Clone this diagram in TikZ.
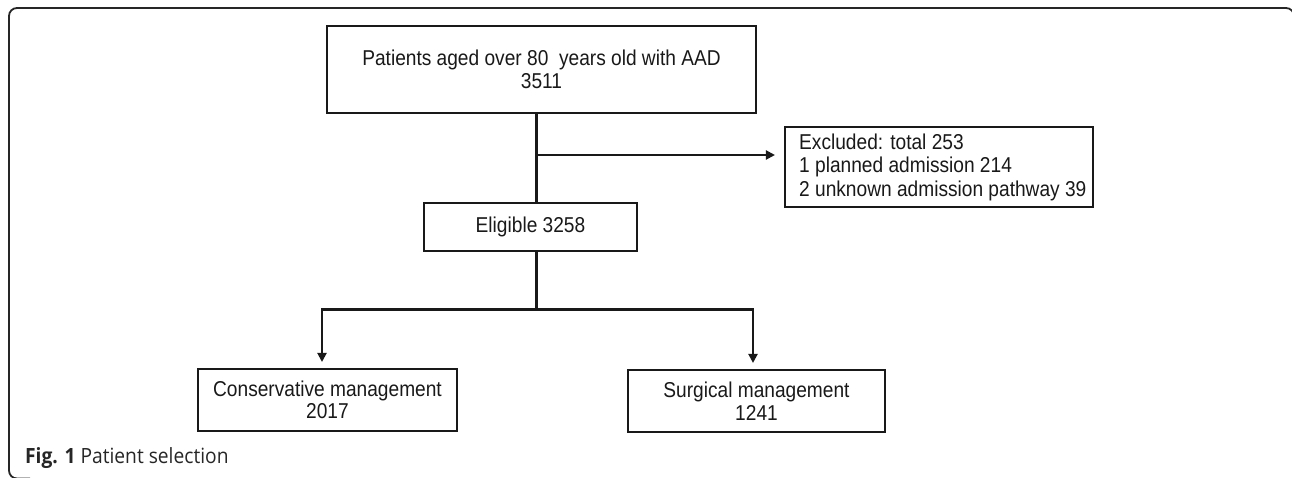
\documentclass[tikz,border=0pt]{standalone}
\usepackage{fontspec}
\setmainfont{Liberation Sans}[FakeStretch=0.89]
\newfontfamily\capfont{Open Sans}[FakeStretch=0.915]
\usetikzlibrary{arrows.meta}
\begin{document}
\begin{tikzpicture}[x=1pt,y=-1pt,
  box/.style={draw=black!90, line width=2.1pt, align=center, inner sep=0pt,
    font=\fontsize{21.5}{22.5}\selectfont, text=black!90},
  conn/.style={line width=2.1pt, draw=black!90},
  arr/.style={conn, -{Triangle[length=9pt,width=9pt]}},
  frame/.style={line width=1.8pt, draw=black!85, rounded corners=8pt},
]
\useasboundingbox (0,0) rectangle (1292,477);
\draw[frame] (30,478.5) -- (9,478.5) -- (9,8) -- (1294,8) -- (1294,40);

\node[box, minimum width=429pt, minimum height=87pt] (top) at (541.5,69.5)
  {Patients aged over 80\ \ years old with AAD\\3511};
\node[box, minimum width=213pt, minimum height=48pt] (elig) at (530.5,227) {Eligible 3258};
\node[box, minimum width=308pt, minimum height=80pt] (excl) at (939,167) {};
\node[anchor=west, align=left, inner sep=0pt, text=black!90,
  font=\fontsize{21.5}{23.5}\selectfont] (exclt) at (799,167)
  {Excluded: total 253\\1 planned admission 214\\2 unknown admission pathway 39};
\node[box, minimum width=259pt, minimum height=62pt] (cons) at (327.5,400)
  {Conservative management\\2017};
\node[box, minimum width=257pt, minimum height=62pt] (surg) at (756.5,401)
  {Surgical management\\1241};

\coordinate (sp) at (536.5,155);
\coordinate (br) at (536.5,309.5);
\coordinate (bl) at (322,309.5);
\coordinate (bR) at (753,309.5);

\draw[conn] (top.south -| sp) -- (elig.north -| sp);
\draw[arr, shorten >=9pt] (sp) -- (excl.west |- sp);
\draw[conn] (elig.south -| br) -- (br);
\draw[arr, shorten >=6pt] (br) -- (bl) -- (cons.north -| bl);
\draw[arr, shorten >=6pt] (br) -- (bR) -- (surg.north -| bR);

\node[anchor=west, inner sep=0pt, text=black!85,
  font=\capfont\fontsize{21}{22}\selectfont] (cap) at (25,458)
  {\textbf{Fig. 1} Patient selection};
\end{tikzpicture}
\end{document}
